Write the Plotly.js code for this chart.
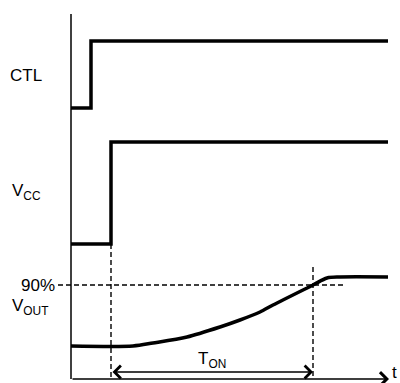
<!DOCTYPE html>
<html><head><meta charset="utf-8">
<script src="https://cdn.plot.ly/plotly-3.0.1.min.js"></script>
<style>html,body{margin:0;padding:0;background:#fff;}#chart{width:400px;height:383px;}</style>
</head><body><div id="chart"></div>
<script>
// Signal waveforms (time from origin, level from baseline)
const ctlT = [0, 20, 20, 317];
const ctlV = [271, 271, 338, 338];
const vccT = [0, 40, 40, 317];
const vccV = [135, 135, 237, 237];
const voutT = [0, 62, 82, 116, 149, 169, 189, 202, 242, 256, 269, 317];
const voutV = [33, 33, 36, 42, 52, 59, 67, 74, 94, 101, 102, 102];
// Reference markers
const level90 = 94;
const level90T = [-13, 272];
const tStart = 40;
const tStartV = [135, 2];
const tEnd = 242;
const tEndV = [112, 2];
const yAxisTop = 365;
const xAxisEnd = 318;
const tonLevel = 7;
const labels = ["CTL", "V<sub>CC</sub>", "V<sub>OUT</sub>", "90%", "T<sub>ON</sub>", "t"];

const font = {family: "Liberation Sans, Arial, sans-serif", size: 17, color: "#000"};
const sig = {color: "#000", width: 3.5};
const dsh = {color: "#000", width: 1.4, dash: "5px,3px"};

const traces = [
  {x: [0, 0], y: [0, yAxisTop], mode: "lines", line: {color: "#000", width: 1.5}},
  {x: ctlT, y: ctlV, mode: "lines", line: sig},
  {x: vccT, y: vccV, mode: "lines", line: sig},
  {x: level90T, y: [level90, level90], mode: "lines", line: dsh},
  {x: [tStart, tStart], y: tStartV, mode: "lines", line: dsh},
  {x: [tEnd, tEnd], y: tEndV, mode: "lines", line: dsh},
  {x: voutT, y: voutV, mode: "lines", line: Object.assign({}, sig, {shape: "spline", smoothing: 0.8})},
];

const ann = (x, y, text, xanchor, yanchor) => ({x: x, y: y, xref: "x", yref: "y", text: text, showarrow: false,
  xanchor: xanchor, yanchor: yanchor || "middle", font: font, borderpad: 0});

const layout = {
  width: 400, height: 383,
  margin: {l: 0, r: 0, t: 0, b: 0},
  paper_bgcolor: "#fff", plot_bgcolor: "#fff",
  showlegend: false,
  xaxis: {range: [-71, 329], visible: false, fixedrange: true},
  yaxis: {range: [-4, 379], visible: false, fixedrange: true},
  annotations: [
    ann(-62, 304, labels[0], "left"),
    ann(-60, 187, labels[1], "left"),
    ann(-60, 72, labels[2], "left"),
    ann(-15, level90, labels[3], "right"),
    ann(126, 19, labels[4], "left"),
    ann(319.5, -3.5, labels[5], "left", "bottom"),
    {x: xAxisEnd, y: 0, ax: 0, ay: 0, xref: "x", yref: "y", axref: "x", ayref: "y", text: "", showarrow: true,
     arrowhead: 4, arrowsize: 1.9, arrowwidth: 1.4, arrowcolor: "#000", standoff: 0, startstandoff: 0},
    {x: tEnd, y: tonLevel, ax: tStart, ay: tonLevel, xref: "x", yref: "y", axref: "x", ayref: "y", text: "", showarrow: true,
     arrowside: "end+start", arrowhead: 4, startarrowhead: 4, arrowsize: 1.9, startarrowsize: 1.9, arrowwidth: 1.3,
     arrowcolor: "#000", standoff: 0, startstandoff: 0},
  ],
};
Plotly.newPlot("chart", traces, layout, {displayModeBar: false, staticPlot: true});
</script></body></html>
